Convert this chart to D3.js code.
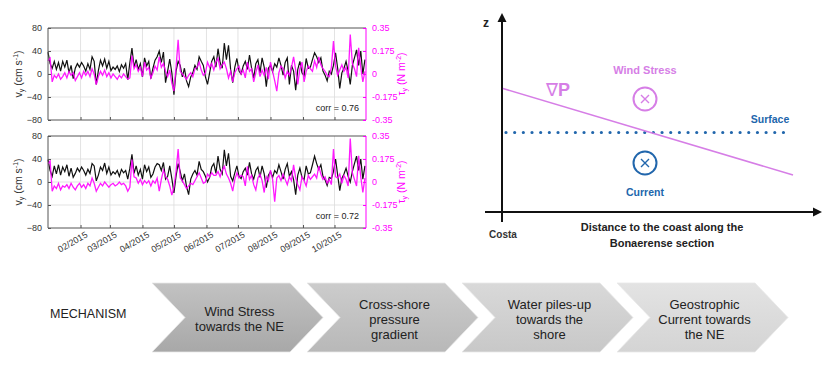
<!DOCTYPE html>
<html><head><meta charset="utf-8">
<script src="https://cdn.jsdelivr.net/npm/d3@7/dist/d3.min.js"></script>
<style>body{margin:0;background:#fff;}svg{display:block;font-family:"Liberation Sans",Arial,sans-serif;}</style>
</head><body>
<svg id="c" width="836" height="366"></svg>
<script>
// ---------- DATA ----------
const startDate = "2015-01-01";
const stepDays = 2;
const endDate = "2015-10-31";
const monthTicks = ["2015-02-01","2015-03-01","2015-04-01","2015-05-01","2015-06-01","2015-07-01","2015-08-01","2015-09-01","2015-10-01"];
const vTicks = [80, 40, 0, -40, -80];
const tauTicks = [0.35, 0.175, 0, -0.175, -0.35];
const tauTickLabels = ["0.35","0.175","0","-0.175","-0.35"];

const vTop = [
 38, 18, 10, 22, 8, 20, 5, 22, 12, 24,
 2, 15, -8, 10, 18, 12, 20, 14, 5, 18,
 8, 30, 22, -18, 6, 24, 14, 26, 10, 22,
 6, 12, 8, 14, 4, 16, 10, 18, -10, 20,
 45, 12, 25, 8, 18, -5, 28, 14, 22, -8,
 10, 24, 30, 40, 20, 38, -15, 5, 26, 2,
 -36, 5, 22, 15, -5, 10, -12, -22, -5, 2,
 15, 8, 30, 22, 15, -5, -18, 2, 22, 30,
 12, 44, 20, 10, 54, 25, 50, 8, -15, 12,
 27, 5, 0, 14, 22, 8, 33, 10, -7, 18,
 25, 2, 28, 12, -22, 10, 15, 4, 18, 12,
 28, 15, -2, 20, 28, -18, 15, 5, -28, 8,
 22, 2, -3, 27, 10, 12, 25, 37, 30, 20,
 28, 5, -2, -12, 5, 0, 15, 37, 10, -25,
 2, 10, 22, 5, -18, 15, 28, 42, 15, 40,
 0, 25];
const tauTop = [
 0.10, 0.12, -0.06, -0.01, -0.03, 0.00, -0.04, -0.02, 0.01, -0.03,
 0.02, -0.01, 0.01, -0.05, -0.02, 0.01, -0.03, 0.02, -0.01, 0.02,
 -0.02, 0.04, 0.00, -0.08, -0.02, 0.02, -0.01, 0.03, -0.02, 0.01,
 -0.03, 0.00, -0.02, -0.04, -0.01, -0.03, 0.00, -0.02, -0.04, -0.03,
 0.14, 0.04, 0.07, 0.02, 0.05, -0.02, 0.09, 0.03, 0.05, -0.03,
 0.01, 0.06, 0.03, 0.13, 0.05, 0.08, 0.02, -0.02, 0.03, -0.07,
 -0.13, 0.05, 0.26, 0.02, 0.00, -0.02, -0.04, -0.01, 0.01, -0.02,
 0.04, 0.05, 0.09, 0.03, -0.01, 0.01, 0.09, 0.05, 0.08, 0.03,
 0.09, 0.12, 0.04, 0.07, 0.09, 0.04, -0.03, 0.02, -0.06, 0.01,
 0.04, 0.06, 0.00, 0.03, -0.03, 0.09, 0.02, 0.04, -0.06, 0.01,
 0.07, -0.02, 0.03, -0.01, 0.05, -0.04, 0.09, 0.02, -0.05, -0.13,
 0.01, 0.06, 0.04, -0.03, 0.02, -0.01, 0.05, 0.13, 0.03, -0.08,
 0.04, 0.09, -0.06, 0.02, 0.06, 0.04, 0.02, 0.10, 0.05, 0.13,
 0.07, 0.04, 0.02, -0.01, -0.02, 0.05, 0.25, 0.06, -0.01, 0.03,
 0.07, 0.02, 0.05, -0.03, 0.30, 0.08, 0.04, -0.02, 0.20, 0.05,
 -0.06, 0.02];
const vBot = [
 39, 20, 10, 28, 14, 30, 12, 26, 18, 30,
 10, 24, 8, 15, 24, 18, 26, 20, 12, 22,
 15, 32, 28, 2, 12, 26, 20, 33, 15, 26,
 12, 18, 14, 20, 10, 22, 16, 20, 5, 24,
 48, 15, 28, 12, 22, 5, 30, 18, 26, 8,
 14, 26, 32, 30, 20, 34, 5, 10, 28, 6,
 -19, 10, 32, 18, 2, 14, -8, -22, 5, 14,
 20, 12, 36, 22, 18, 10, 0, 8, 26, 32,
 15, 45, 22, 14, 56, 28, 50, 10, 2, 16,
 28, 10, 6, 18, 24, 12, 34, 14, 5, 20,
 26, 8, 28, 14, -10, 12, 18, 8, 20, 15,
 30, 18, 5, 22, 32, 10, 18, 4, -22, 12,
 24, 8, 4, 28, 14, 16, 30, 45, 32, 22,
 30, 10, 4, -6, 8, 6, 18, 40, 12, -15,
 6, 14, 24, 10, 0, 18, 32, 45, 20, 40,
 5, 28];
const tauBot = [
 0.14, 0.16, -0.07, -0.03, -0.05, -0.01, -0.06, -0.03, -0.04, -0.02,
 -0.05, -0.01, -0.04, -0.06, -0.03, -0.01, -0.04, -0.02, -0.05, -0.01,
 -0.03, 0.03, -0.01, -0.07, -0.04, -0.01, -0.03, 0.00, -0.02, -0.04,
 -0.02, -0.01, -0.03, -0.02, 0.00, -0.02, -0.01, -0.03, -0.07, -0.04,
 0.17, 0.04, 0.03, -0.01, 0.02, -0.02, 0.01, -0.01, 0.01, -0.03,
 0.01, -0.01, 0.03, -0.07, 0.02, 0.09, 0.04, 0.02, -0.03, -0.10,
 -0.04, 0.08, 0.25, 0.03, 0.01, -0.02, -0.05, -0.03, -0.01, -0.02,
 0.01, 0.04, 0.07, 0.03, -0.01, 0.00, 0.06, 0.04, 0.07, 0.05,
 0.05, 0.08, 0.04, 0.09, 0.12, 0.06, 0.03, -0.01, -0.07, 0.02,
 0.07, 0.03, 0.05, 0.04, -0.03, 0.12, 0.02, 0.05, -0.02, -0.06,
 0.03, 0.06, 0.01, -0.08, 0.04, 0.01, 0.09, 0.02, -0.15, 0.03,
 0.05, 0.01, 0.06, 0.02, -0.02, 0.04, 0.01, 0.13, 0.03, -0.02,
 -0.06, 0.04, 0.01, -0.03, 0.05, 0.02, 0.04, 0.06, 0.03, 0.12,
 0.06, 0.02, 0.04, -0.01, 0.02, -0.02, 0.25, 0.04, 0.03, 0.06,
 -0.01, 0.05, 0.02, -0.03, 0.33, 0.07, 0.02, -0.03, 0.20, 0.04,
 -0.08, 0.03];
const corrLabels = ["corr = 0.76", "corr = 0.72"];

const mechanismLabel = "MECHANISM";
const steps = [
  ["Wind Stress", "towards the NE"],
  ["Cross-shore", "pressure", "gradient"],
  ["Water piles-up", "towards the", "shore"],
  ["Geostrophic", "Current towards", "the NE"]
];
const stepFills = [["#c2c2c2","#a8a8a8"],["#cccccc","#b8b8b8"],["#d9d9d9","#c8c8c8"],["#e3e3e3","#d4d4d4"]];

// ---------- CHART ----------
const svg = d3.select("#c");
const parse = d3.utcParse("%Y-%m-%d");
const t0 = parse(startDate);
const dateAt = i => d3.utcDay.offset(t0, i * stepDays);
const x = d3.scaleUtc().domain([t0, parse(endDate)]).range([48, 366]);
const MAG = "#ff00ff";
const AX = "#555";

function panel(y0, y1, vData, tauData, corr, showX) {
  const yL = d3.scaleLinear().domain([-80, 80]).range([y1, y0]);
  const yR = d3.scaleLinear().domain([-0.35, 0.35]).range([y1, y0]);
  const g = svg.append("g");
  g.selectAll(".gx").data(monthTicks).join("line")
    .attr("x1", d => x(parse(d))).attr("x2", d => x(parse(d)))
    .attr("y1", y0).attr("y2", y1).attr("stroke", "#dcdcdc").attr("stroke-width", 0.8);
  g.selectAll(".gy").data([40, 0, -40]).join("line")
    .attr("x1", 48).attr("x2", 366).attr("y1", d => yL(d)).attr("y2", d => yL(d))
    .attr("stroke", "#dcdcdc").attr("stroke-width", 0.8);
  const lineV = d3.line().x((d, i) => x(dateAt(i))).y(d => yL(d));
  const lineT = d3.line().x((d, i) => x(dateAt(i))).y(d => yR(d));
  g.append("path").datum(vData).attr("d", lineV).attr("fill", "none").attr("stroke", "#111").attr("stroke-width", 1.2);
  g.append("path").datum(tauData).attr("d", lineT).attr("fill", "none").attr("stroke", MAG).attr("stroke-width", 1.3).attr("opacity", 0.9);
  g.append("line").attr("x1", 48).attr("x2", 366).attr("y1", y0).attr("y2", y0).attr("stroke", AX);
  g.append("line").attr("x1", 48).attr("x2", 366).attr("y1", y1).attr("y2", y1).attr("stroke", AX);
  g.append("line").attr("x1", 48).attr("x2", 48).attr("y1", y0).attr("y2", y1).attr("stroke", AX);
  g.append("line").attr("x1", 366).attr("x2", 366).attr("y1", y0).attr("y2", y1).attr("stroke", MAG);
  const la = g.append("g").attr("transform", "translate(48,0)")
    .call(d3.axisLeft(yL).tickValues(vTicks).tickSize(-3).tickPadding(6));
  la.select(".domain").remove();
  la.selectAll("line").attr("stroke", AX);
  la.selectAll("text").attr("fill", "#333").style("font-size", "9px").style("font-family", "Liberation Sans, Arial");
  const ra = g.append("g").attr("transform", "translate(366,0)")
    .call(d3.axisRight(yR).tickValues(tauTicks).tickFormat((d, i) => tauTickLabels[i]).tickSize(-3).tickPadding(6));
  ra.select(".domain").remove();
  ra.selectAll("line").attr("stroke", MAG);
  ra.selectAll("text").attr("fill", MAG).style("font-size", "9px").style("font-family", "Liberation Sans, Arial");
  const ba = g.append("g").attr("transform", `translate(0,${y1})`)
    .call(d3.axisBottom(x).tickValues(monthTicks.map(parse)).tickSize(-3).tickFormat(showX ? d3.utcFormat("%m/%Y") : ""));
  ba.select(".domain").remove();
  ba.selectAll("line").attr("stroke", AX);
  if (showX) {
    ba.selectAll("text").attr("fill", "#333").style("font-size", "9px").style("font-family", "Liberation Sans, Arial")
      .attr("text-anchor", "end").attr("dy", 0).attr("y", 11).attr("x", 2)
      .attr("transform", "rotate(-30)");
  }
  const ym = (y0 + y1) / 2;
  const tl = g.append("text").attr("transform", `translate(22,${ym}) rotate(-90)`)
    .attr("text-anchor", "middle").attr("fill", "#333").style("font-size", "10.5px");
  tl.append("tspan").text("v");
  tl.append("tspan").attr("dy", 2).style("font-size", "7px").text("y");
  tl.append("tspan").attr("dy", -2).text(" (cm s");
  tl.append("tspan").attr("dy", -4).style("font-size", "7px").text("-1");
  tl.append("tspan").attr("dy", 4).text(")");
  const tr = g.append("text").attr("transform", `translate(405,${ym}) rotate(-90)`)
    .attr("text-anchor", "middle").attr("fill", MAG).style("font-size", "10.5px");
  tr.append("tspan").text("τ");
  tr.append("tspan").attr("dy", 2).style("font-size", "7px").text("y");
  tr.append("tspan").attr("dy", -2).text(" (N m");
  tr.append("tspan").attr("dy", -4).style("font-size", "7px").text("-2");
  tr.append("tspan").attr("dy", 4).text(")");
  g.append("text").attr("x", 359).attr("y", y1 - 9).attr("text-anchor", "end")
    .attr("fill", "#222").style("font-size", "9px").text(corr);
}
panel(28, 120, vTop, tauTop, corrLabels[0], false);
panel(136, 228, vBot, tauBot, corrLabels[1], true);

// ---------- SCHEMATIC ----------
const sc = svg.append("g");
const axC = "#111";
sc.append("line").attr("x1", 502).attr("x2", 502).attr("y1", 222).attr("y2", 20).attr("stroke", axC).attr("stroke-width", 2);
sc.append("path").attr("d", "M502,13 L497.5,22 L506.5,22 Z").attr("fill", axC);
sc.append("line").attr("x1", 485).attr("x2", 815).attr("y1", 212).attr("y2", 212).attr("stroke", axC).attr("stroke-width", 2);
sc.append("path").attr("d", "M822,212 L813,207.5 L813,216.5 Z").attr("fill", axC);
sc.append("text").attr("x", 486).attr("y", 27).attr("text-anchor", "middle").attr("font-weight", "bold").style("font-size", "12px").attr("fill", "#222").text("z");
sc.append("text").attr("x", 503).attr("y", 238).attr("text-anchor", "middle").attr("font-weight", "bold").style("font-size", "10px").attr("fill", "#333").text("Costa");
sc.append("text").attr("x", 662).attr("y", 231).attr("text-anchor", "middle").attr("font-weight", "bold").style("font-size", "11px").attr("fill", "#222").text("Distance to the coast along the");
sc.append("text").attr("x", 662).attr("y", 247).attr("text-anchor", "middle").attr("font-weight", "bold").style("font-size", "11px").attr("fill", "#222").text("Bonaerense section");
const BLUE = "#2166ac";
sc.append("line").attr("x1", 506).attr("x2", 792).attr("y1", 132.5).attr("y2", 132.5)
  .attr("stroke", BLUE).attr("stroke-width", 3.2).attr("stroke-linecap", "round").attr("stroke-dasharray", "0 8.67");
sc.append("text").attr("x", 770).attr("y", 123).attr("text-anchor", "middle").attr("font-weight", "bold").style("font-size", "10.5px").attr("fill", BLUE).text("Surface");
const PINK = "#d67ee6";
sc.append("line").attr("x1", 503).attr("y1", 88.5).attr("x2", 793).attr("y2", 175).attr("stroke", PINK).attr("stroke-width", 1.6);
const np = sc.append("text").attr("x", 546).attr("y", 96).attr("fill", PINK).style("font-size", "18px");
np.append("tspan").text("∇");
np.append("tspan").attr("font-weight", "bold").text("P");
sc.append("text").attr("x", 645).attr("y", 74).attr("text-anchor", "middle").attr("font-weight", "bold").style("font-size", "11px").attr("fill", PINK).text("Wind Stress");
function xcircle(cx, cy, col) {
  sc.append("circle").attr("cx", cx).attr("cy", cy).attr("r", 11.5).attr("fill", "none").attr("stroke", col).attr("stroke-width", 2);
  sc.append("path").attr("d", `M${cx-4},${cy-4}L${cx+4},${cy+4}M${cx+4},${cy-4}L${cx-4},${cy+4}`).attr("stroke", col).attr("stroke-width", 1.4);
}
xcircle(645, 99, PINK);
xcircle(645, 163, BLUE);
sc.append("text").attr("x", 645).attr("y", 196).attr("text-anchor", "middle").attr("font-weight", "bold").style("font-size", "10.5px").attr("fill", BLUE).text("Current");

// ---------- MECHANISM ----------
const mg = svg.append("g");
mg.append("text").attr("x", 50).attr("y", 318).attr("fill", "#222").style("font-size", "12.5px").text(mechanismLabel);
const defs = svg.append("defs");
stepFills.forEach((f, i) => {
  const lg = defs.append("linearGradient").attr("id", "gr" + i).attr("x1", 0).attr("y1", 0).attr("x2", 0).attr("y2", 1);
  lg.append("stop").attr("offset", "0%").attr("stop-color", f[0]);
  lg.append("stop").attr("offset", "100%").attr("stop-color", f[1]);
});
const chevX = d3.scaleLinear().domain([0, 1]).range([152, 307]);
steps.forEach((lines, i) => {
  const x0 = chevX(i), top = 283, bot = 352, mid = 317.5, w = 138, p = 33;
  mg.append("path").attr("d", `M${x0},${top}L${x0+w},${top}L${x0+w+p},${mid}L${x0+w},${bot}L${x0},${bot}L${x0+p},${mid}Z`)
    .attr("fill", `url(#gr${i})`).attr("stroke", "#e8e8e8").attr("stroke-width", 0.8);
  const cx = x0 + p + (w - p) / 2 + 2;
  const n = lines.length, lh = 15;
  lines.forEach((s, j) => {
    mg.append("text").attr("x", cx).attr("y", 319 + (j - (n - 1) / 2) * lh + 4.5)
      .attr("text-anchor", "middle").attr("fill", "#222").style("font-size", "13px").text(s);
  });
});
</script>
</body></html>
